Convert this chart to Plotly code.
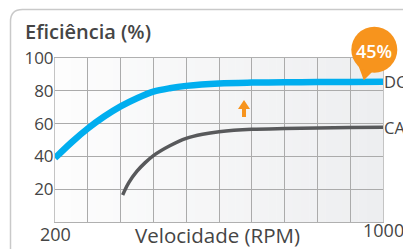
import plotly.graph_objects as go

# ---- data ----
dc_rpm = [200, 240, 280, 320, 360, 400, 440, 480, 520, 600, 680, 760, 840, 920, 1000]
dc_eff = [39, 48.5, 57, 64.3, 70.5, 75.5, 79.5, 81.6, 83, 84.5, 85, 85.2, 85.3, 85.4, 85.5]
ca_rpm = [365, 380, 400, 420, 440, 480, 520, 560, 600, 680, 760, 840, 920, 1000]
ca_eff = [16.5, 24, 31, 36.2, 40.5, 46.5, 51, 53.5, 55, 56.5, 57, 57.3, 57.6, 57.8]
x_grid = [200, 280, 360, 440, 520, 600, 680, 760, 840, 920, 1000]
y_ticks = [0, 20, 40, 60, 80, 100]
y_labels = ["", "20", "40", "60", "80", "100"]
x_end_labels = ["200", "1000"]
series_names = ["DC", "CA"]
badge_text = "45%"
arrow_rpm = 661
arrow_eff = 64

FONT = "Open Sans"
TXT = "#454545"
BLUE = "#00aeef"
GRAY = "#58595b"
ORANGE = "#f7941d"

OFF = 8  # page body margin
W, H = 411 - OFF, 249 - OFF
L, T = 55 - OFF, 58 - OFF
PW, PH = 328, 164
R, B = W - L - PW, H - T - PH

def px(xp):
    return (xp - OFF - L) / PW

def py(yp):
    return (H - B - (yp - OFF)) / PH

fig = go.Figure()
fig.add_trace(go.Scatter(x=dc_rpm, y=dc_eff, mode="lines",
                         line=dict(color=BLUE, width=6.5, shape="spline", smoothing=0.9),
                         hoverinfo="skip", showlegend=False))
fig.add_trace(go.Scatter(x=ca_rpm, y=ca_eff, mode="lines",
                         line=dict(color=GRAY, width=3.5, shape="spline", smoothing=0.9),
                         hoverinfo="skip", showlegend=False))

shapes = []
# gradient background of plot area
n = 40
for i in range(n):
    t = i / (n - 1)
    c0 = (253, 253, 253)
    c1 = (237, 238, 240)
    c = tuple(int(round(a + (b - a) * t)) for a, b in zip(c0, c1))
    shapes.append(dict(type="rect", xref="paper", yref="paper",
                       x0=i / n, x1=(i + 1) / n + 0.001, y0=0, y1=1,
                       fillcolor="rgb(%d,%d,%d)" % c, line=dict(width=0), layer="below"))
# card border with rounded top-left corner
xl, yt = px(10.5), py(9.5)
dx, dy = 12 / PW, 12 / PH
shapes.append(dict(type="path", xref="paper", yref="paper", layer="below",
                   path=f"M {xl},-0.3 L {xl},{yt-dy} Q {xl},{yt} {xl+dx},{yt} L 1.3,{yt}",
                   line=dict(color="#c9c9c9", width=1.5)))
# orange up arrow
shapes.append(dict(type="path", xref="x", yref="y", xsizemode="pixel", ysizemode="pixel",
                   xanchor=arrow_rpm, yanchor=arrow_eff,
                   path="M -2,0 L 2,0 L 2,8 L 6,8 L 0,17 L -6,8 L -2,8 Z",
                   fillcolor=ORANGE, line=dict(width=0), layer="above"))
# badge
bx, by = px(374.3), py(49.7)
shapes.append(dict(type="path", xref="paper", yref="paper", xsizemode="pixel", ysizemode="pixel",
                   xanchor=bx, yanchor=by,
                   path="M -17,-13 L 2,-18 L -10.5,-30.5 Z",
                   fillcolor=ORANGE, line=dict(width=0), layer="above"))
shapes.append(dict(type="circle", xref="paper", yref="paper", xsizemode="pixel", ysizemode="pixel",
                   xanchor=bx, yanchor=by, x0=-23, x1=23, y0=-23, y1=23,
                   fillcolor=ORANGE, line=dict(width=0), layer="above"))

annotations = [
    dict(text="Eficiência (%)", xref="paper", yref="paper", x=px(23), y=py(31.2),
         xanchor="left", yanchor="middle", showarrow=False,
         font=dict(family=FONT, size=20, color=TXT, weight=600)),
    dict(text=badge_text, xref="paper", yref="paper", x=bx, y=py(50.5),
         xanchor="center", yanchor="middle", showarrow=False,
         font=dict(family=FONT, size=18, color="white", weight=600)),
    dict(text=series_names[0], xref="paper", y=dc_eff[-1], yref="y", x=px(382),
         xanchor="left", yanchor="middle", showarrow=False,
         font=dict(family=FONT, size=16.5, color=TXT)),
    dict(text=series_names[1], xref="paper", y=ca_eff[-1], yref="y", x=px(382),
         xanchor="left", yanchor="middle", showarrow=False,
         font=dict(family=FONT, size=16.5, color=TXT)),
    dict(text=x_end_labels[0], xref="x", x=x_grid[0], yref="paper", y=py(234),
         xanchor="center", yanchor="middle", showarrow=False,
         font=dict(family=FONT, size=18, color=TXT)),
    dict(text=x_end_labels[1], xref="x", x=x_grid[-1], yref="paper", y=py(230),
         xanchor="center", yanchor="middle", showarrow=False,
         font=dict(family=FONT, size=18, color=TXT)),
    dict(text="Velocidade (RPM)", xref="paper", x=px(217.5), yref="paper", y=py(235),
         xanchor="center", yanchor="middle", showarrow=False,
         font=dict(family=FONT, size=20.5, color=TXT)),
]

fig.update_layout(
    width=W, height=H,
    margin=dict(l=L, r=R, t=T, b=B, pad=0),
    paper_bgcolor="white", plot_bgcolor="rgba(0,0,0,0)",
    shapes=shapes, annotations=annotations,
    xaxis=dict(range=[200, 1000], tickvals=x_grid, showticklabels=False,
               showgrid=True, gridcolor="#ababab", gridwidth=1, zeroline=False,
               showline=True, linecolor="#b0b0b0", linewidth=1, mirror=True, ticks=""),
    yaxis=dict(range=[0, 100], tickvals=y_ticks, ticktext=y_labels,
               showgrid=True, gridcolor="#ababab", gridwidth=1, zeroline=False,
               showline=True, linecolor="#c4c4c4", linewidth=1, mirror=True, ticks="",
               ticklabelstandoff=-3,
               tickfont=dict(family=FONT, size=17, color=TXT)),
)

fig.write_html("out.html")
